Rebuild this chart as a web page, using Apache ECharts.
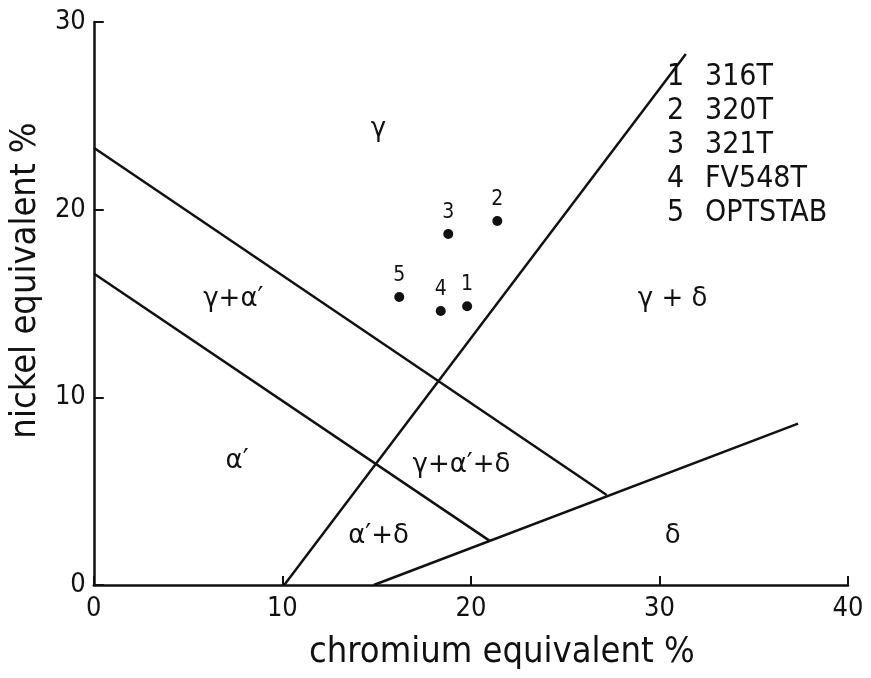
<!DOCTYPE html>
<html>
<head>
<meta charset="utf-8">
<script src="https://cdn.jsdelivr.net/npm/echarts@6/dist/echarts.min.js"></script>
<style>
  html, body { margin: 0; padding: 0; background: #fff; }
  #main { width: 871px; height: 678px; }
</style>
</head>
<body>
<div id="main"></div>
<script>
// phase boundaries, [cr, ni] end points
var upperLine = [[0, 23.3], [27.2, 4.8]];
var lowerLine = [[0, 16.6], [21.0, 2.35]];
var steepLine = [[10.1, 0], [31.4, 28.3]];
var shallowLine = [[14.85, 0], [37.35, 8.6]];

// steels
var steelNo = ['1', '2', '3', '4', '5'];
var steelNames = ['316T', '320T', '321T', 'FV548T', 'OPTSTAB'];
var crEq = [19.8, 21.4, 18.8, 18.4, 16.2];
var niEq = [14.85, 19.4, 18.7, 14.6, 15.35];

// phase field labels
var fieldNames = ['γ', 'γ+α′', 'γ + δ', 'α′', 'γ+α′+δ', 'α′+δ', 'δ'];
var fieldCr = [15.1, 7.4, 30.7, 7.6, 19.5, 15.1, 30.7];
var fieldNi = [24.3, 15.2, 15.2, 6.6, 6.4, 2.6, 2.6];

var xTicks = [0, 10, 20, 30, 40];
var yTicks = [0, 10, 20, 30];

var FONT = 'Liberation Sans Narrow, DejaVu Sans Condensed, sans-serif';

var myChart = echarts.init(document.getElementById('main'));

function boundary(pts) {
    return {
        type: 'line',
        data: pts,
        symbol: 'none',
        silent: true,
        lineStyle: { color: '#111', width: 2.5 }
    };
}

var keyGraphics = [];
steelNo.forEach(function (n, i) {
    keyGraphics.push({
        type: 'text', left: 667, top: 62 + i * 34,
        style: { text: n, font: '30px ' + FONT, fill: '#111' }
    });
    keyGraphics.push({
        type: 'text', left: 705, top: 62 + i * 34,
        style: { text: steelNames[i], font: '30px ' + FONT, fill: '#111' }
    });
});

var option = {
    animation: false,
    backgroundColor: '#fff',
    grid: { left: 93, right: 23, top: 22, bottom: 93 },
    xAxis: {
        type: 'value',
        min: 0, max: 40, interval: 10,
        name: 'chromium equivalent %',
        nameLocation: 'middle',
        nameGap: 50,
        nameTextStyle: { fontFamily: FONT, fontSize: 36, color: '#111', padding: [0, 0, 0, 62] },
        axisLine: { lineStyle: { color: '#111', width: 2.5 } },
        axisTick: { inside: true, length: 9, lineStyle: { color: '#111', width: 2 } },
        axisLabel: { fontFamily: FONT, fontSize: 27, color: '#111', margin: 10,
            formatter: function (v) { return xTicks.indexOf(v) >= 0 ? v : ''; } },
        splitLine: { show: false }
    },
    yAxis: {
        type: 'value',
        min: 0, max: 30, interval: 10,
        name: 'nickel equivalent %',
        nameLocation: 'middle',
        nameGap: 46,
        nameRotate: 90,
        nameTextStyle: { fontFamily: FONT, fontSize: 36, color: '#111', padding: [0, 0, 0, 46] },
        axisLine: { lineStyle: { color: '#111', width: 2.5 } },
        axisTick: { inside: true, length: 10, lineStyle: { color: '#111', width: 2 } },
        axisLabel: { fontFamily: FONT, fontSize: 27, color: '#111', margin: 8,
            formatter: function (v) { return yTicks.indexOf(v) >= 0 ? v : ''; } },
        splitLine: { show: false }
    },
    graphic: keyGraphics,
    series: [
        boundary(upperLine),
        boundary(lowerLine),
        boundary(steepLine),
        boundary(shallowLine),
        {
            type: 'scatter',
            data: crEq.map(function (c, i) { return [c, niEq[i], steelNo[i]]; }),
            symbolSize: 10,
            itemStyle: { color: '#111', opacity: 1 },
            label: {
                show: true, position: 'top', distance: 6,
                fontFamily: FONT, fontSize: 21, color: '#111',
                formatter: function (p) { return p.value[2]; }
            }
        },
        {
            type: 'scatter',
            data: fieldCr.map(function (c, i) { return [c, fieldNi[i], fieldNames[i]]; }),
            symbolSize: 0,
            silent: true,
            itemStyle: { opacity: 1 },
            label: {
                show: true, position: 'inside',
                fontFamily: 'DejaVu Sans, sans-serif', fontSize: 26, color: '#111',
                formatter: function (p) { return p.value[2]; }
            }
        }
    ]
};

myChart.setOption(option);
</script>
</body>
</html>
